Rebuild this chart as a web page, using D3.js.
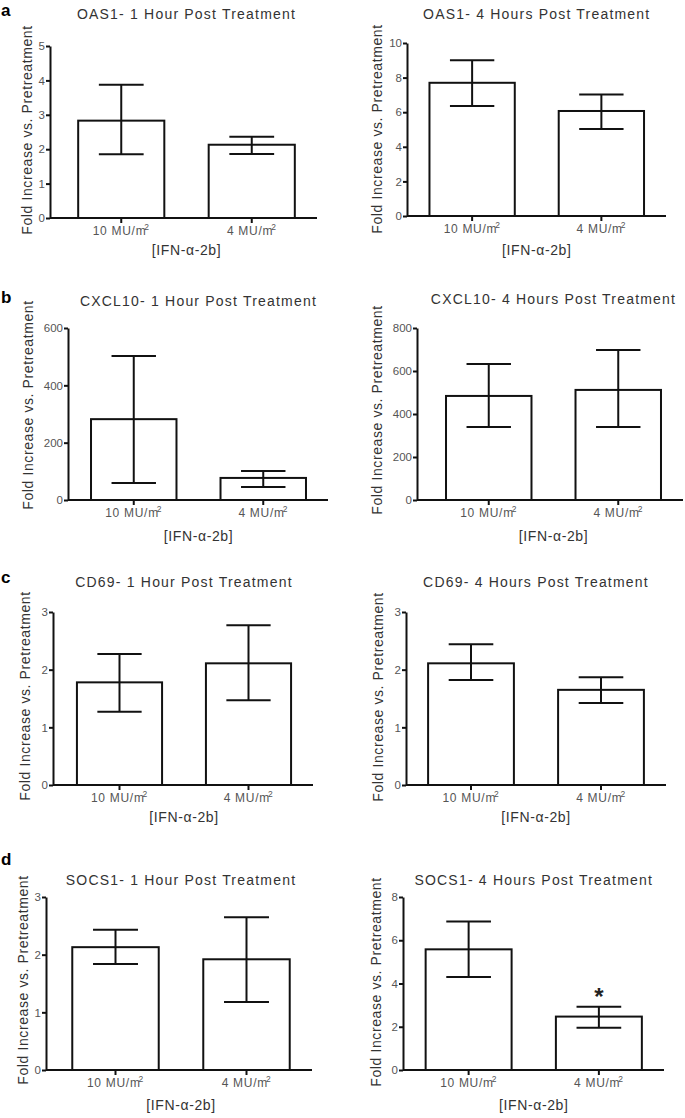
<!DOCTYPE html>
<html><head><meta charset="utf-8">
<script src="https://cdn.jsdelivr.net/npm/d3@7/dist/d3.min.js"></script>
<style>body{margin:0;background:#fff}svg{display:block}</style>
</head><body>
<svg id="c" width="685" height="1118"></svg>
<script>
// ---- data ----
const groups = ["10 MU/m", "4 MU/m"]; // each followed by superscript "2"
const titles = [
  "OAS1- 1 Hour Post Treatment", "OAS1- 4 Hours Post Treatment",
  "CXCL10- 1 Hour Post Treatment", "CXCL10- 4 Hours Post Treatment",
  "CD69- 1 Hour Post Treatment", "CD69- 4 Hours Post Treatment",
  "SOCS1- 1 Hour Post Treatment", "SOCS1- 4 Hours Post Treatment"
];
const yMax = [5, 10, 600, 800, 3, 3, 3, 8];
const yTickStep = [1, 2, 200, 200, 1, 1, 1, 2];
const means   = [[2.83, 2.13], [7.7, 6.07], [282, 77], [484, 512], [1.78, 2.11], [2.11, 1.65], [2.13, 1.92], [5.58, 2.47]];
const errLow  = [[1.85, 1.86], [6.36, 5.03], [59, 45], [340, 340], [1.27, 1.47], [1.82, 1.42], [1.84, 1.18], [4.3, 1.95]];
const errHigh = [[3.87, 2.36], [9.0, 7.02], [502, 101], [633, 698], [2.27, 2.77], [2.44, 1.87], [2.43, 2.65], [6.87, 2.93]];
const significant = [[false,false],[false,false],[false,false],[false,false],[false,false],[false,false],[false,false],[false,true]];
const panelLetters = ["a", "b", "c", "d"];
const yTitle = "Fold Increase vs. Pretreatment";
const xTitle = "[IFN-\u03b1-2b]";

// ---- layout (pixels) ----
const layout = [
  {ax: 50, bs: 56, be: 317, y0: 218, y1: 46, ytx: 27, ytc: 130, ty: 19, xty: 255},
  {ax: 407, bs: 407.5, be: 666, y0: 216, y1: 43, ytx: 377, ytc: 129, ty: 19, xty: 255},
  {ax: 68, bs: 69, be: 328, y0: 500, y1: 328, ytx: 28, ytc: 405, ty: 306, xty: 541},
  {ax: 417, bs: 424, be: 683, y0: 500, y1: 328, ytx: 377, ytc: 410, ty: 304, xty: 541},
  {ax: 53, bs: 55, be: 313, y0: 785, y1: 612, ytx: 25, ytc: 696, ty: 587, xty: 822},
  {ax: 406, bs: 406, be: 666, y0: 785, y1: 612, ytx: 378, ytc: 697, ty: 587, xty: 822},
  {ax: 46, bs: 50, be: 312, y0: 1070, y1: 897, ytx: 23, ytc: 980, ty: 885, xty: 1110},
  {ax: 403, bs: 403.5, be: 664, y0: 1070, y1: 897, ytx: 376, ytc: 982, ty: 885, xty: 1110}
];
const letterPos = [[1, 15.5], [1, 303], [1, 583], [1, 865]];

const svg = d3.select("#c");
const FONT = "'Liberation Sans', Arial, sans-serif";
const TXT = "#333";

titles.forEach((t, i) => {
  const L = layout[i];
  const g = svg.append("g");
  const x = d3.scaleBand().domain(groups).range([L.bs, L.be]).paddingInner(0.34).paddingOuter(0.17);
  const y = d3.scaleLinear().domain([0, yMax[i]]).range([L.y0, L.y1]);
  const ticks = d3.range(0, yMax[i] + 1e-9, yTickStep[i]);
  const bw = x.bandwidth();
  const midX = (x(groups[0]) + x(groups[1]) + bw) / 2;

  // y axis
  const ya = g.append("g").attr("transform", `translate(${L.ax},0)`)
    .call(d3.axisLeft(y).tickValues(ticks).tickSize(4).tickPadding(1).tickSizeOuter(0).tickFormat(d3.format("d")));
  ya.select(".domain").attr("stroke", "#111").attr("stroke-width", 2);
  ya.selectAll(".tick line").attr("stroke", "#111").attr("stroke-width", 2);
  ya.selectAll(".tick text").attr("font-family", FONT).attr("font-size", 11.5).attr("fill", "#555");

  // x axis
  const xa = g.append("g").attr("transform", `translate(0,${L.y0})`)
    .call(d3.axisBottom(x).tickSize(5).tickSizeOuter(0).tickPadding(3).tickFormat(""));
  xa.select(".domain").attr("d", `M${L.ax},0H${L.be}`).attr("stroke", "#111").attr("stroke-width", 2);
  xa.selectAll(".tick line").attr("stroke", "#111").attr("stroke-width", 2);
  xa.selectAll(".tick").each(function(d) {
    const tx = d3.select(this).append("text").attr("y", 17).attr("text-anchor", "middle")
      .attr("font-family", FONT).attr("font-size", 12).attr("letter-spacing", 0.7).attr("fill", "#555");
    tx.append("tspan").text(d);
    tx.append("tspan").attr("dy", -5).attr("dx", -2).attr("font-size", 8.5).text("2");
  });

  // bars
  groups.forEach((grp, j) => {
    const m = means[i][j];
    g.append("rect").attr("x", x(grp)).attr("y", y(m)).attr("width", bw).attr("height", y(0) - y(m))
      .attr("fill", "#fff").attr("stroke", "#111").attr("stroke-width", 2);
  });
  groups.forEach((grp, j) => {
    const cx = x(grp) + bw / 2, cw = bw * 0.26;
    const lo = y(errLow[i][j]), hi = y(errHigh[i][j]);
    g.append("line").attr("x1", cx).attr("x2", cx).attr("y1", lo).attr("y2", hi).attr("stroke", "#111").attr("stroke-width", 2);
    [lo, hi].forEach(v => g.append("line").attr("x1", cx - cw).attr("x2", cx + cw).attr("y1", v).attr("y2", v)
      .attr("stroke", "#111").attr("stroke-width", 2));
    if (significant[i][j]) {
      g.append("text").attr("x", cx).attr("y", hi - 2).attr("text-anchor", "middle")
        .attr("font-family", FONT).attr("font-size", 24).attr("font-weight", "bold").attr("fill", "#222").text("*");
    }
  });

  // title
  g.append("text").attr("x", midX).attr("y", L.ty).attr("text-anchor", "middle")
    .attr("font-family", FONT).attr("font-size", 14).attr("letter-spacing", 1.2).attr("fill", TXT).text(titles[i]);
  // y title
  g.append("text").attr("transform", `translate(${L.ytx},${L.ytc}) rotate(-90)`)
    .attr("text-anchor", "middle").attr("dy", "0.35em")
    .attr("font-family", FONT).attr("font-size", 14).attr("letter-spacing", 0.6).attr("fill", TXT).text(yTitle);
  // x title
  g.append("text").attr("x", midX).attr("y", L.xty).attr("text-anchor", "middle")
    .attr("font-family", FONT).attr("font-size", 14).attr("letter-spacing", 0.6).attr("fill", TXT).text(xTitle);
});

panelLetters.forEach((l, k) => {
  svg.append("text").attr("x", letterPos[k][0]).attr("y", letterPos[k][1])
    .attr("font-family", FONT).attr("font-size", 17).attr("font-weight", "bold").attr("fill", "#000").text(l);
});
</script>
</body></html>
